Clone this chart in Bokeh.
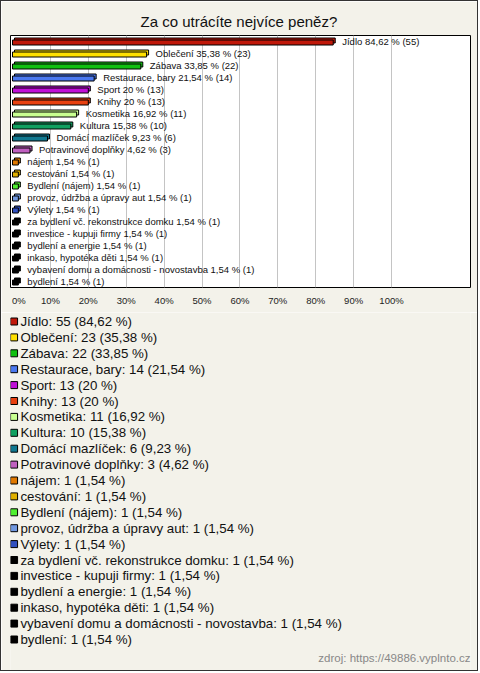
from bokeh.plotting import figure
from bokeh.layouts import column
from bokeh.models import ColumnDataSource, FixedTicker, Range1d, Label
from bokeh.core.properties import value
from bokeh.embed import file_html
from bokeh.resources import INLINE

# ---------------- data ----------------
categories = [
    "Jídlo", "Oblečení", "Zábava", "Restaurace, bary", "Sport", "Knihy",
    "Kosmetika", "Kultura", "Domácí mazlíček", "Potravinové doplňky",
    "nájem", "cestování", "Bydlení (nájem)", "provoz, údržba a úpravy aut",
    "Výlety", "za bydlení vč. rekonstrukce domku", "investice - kupuji firmy",
    "bydlení a energie", "inkaso, hypotéka děti",
    "vybavení domu a domácnosti - novostavba", "bydlení",
]
counts = [55, 23, 22, 14, 13, 13, 11, 10, 6, 3, 1, 1, 1, 1, 1, 1, 1, 1, 1, 1, 1]
percents = [84.62, 35.38, 33.85, 21.54, 20, 20, 16.92, 15.38, 9.23, 4.62,
            1.54, 1.54, 1.54, 1.54, 1.54, 1.54, 1.54, 1.54, 1.54, 1.54, 1.54]
colors = [
    "#c0180a", "#ffe000", "#10c010", "#4a78f0", "#c010d8", "#e84010",
    "#c8ff90", "#10a060", "#107890", "#c060c0", "#e07800", "#e0b000",
    "#50f030", "#7098e0", "#3050c0", "#000000", "#000000", "#000000",
    "#000000", "#000000", "#000000",
]
tick_values = [0, 10, 20, 30, 40, 50, 60, 70, 80, 90, 100]
tick_labels = ["0%", "10%", "20%", "30%", "40%", "50%", "60%", "70%", "80%", "90%", "100%"]
title_text = "Za co utrácíte nejvíce peněz?"
source_text = "zdroj: https://49886.vyplnto.cz"

# ---------------- layout constants ----------------
FONT = "Liberation Sans"
BG = "#f3f2ea"
W = 478                                  # inside a 1px CSS border
H1, H2 = 312, 359                        # chart part, legend part
FL, FR, FT, FB = 9, 469, 34, 286         # chart frame edges in canvas pixels
X0, X1 = -0.53, 120.84
px_x = (FR - FL) / (X1 - X0)             # pixels per percent
n = len(categories)
px_y = (FB - FT) / n                     # pixels per row
ROW = 15.9                               # legend row pitch
LEG_TOP = 9                              # first legend row centre (canvas px)
QR = 5                                   # legend part right border


def fmt(v):
    return ("%g" % v).replace(".", ",")


bar_labels = [f"{c} {fmt(p)} % ({k})" for c, p, k in zip(categories, percents, counts)]
legend_labels = [f"{c}: {k} ({fmt(p)} %)" for c, p, k in zip(categories, percents, counts)]

idx = list(range(n))
dx = 2 / px_x
dy = 1 / px_y
src = ColumnDataSource(dict(
    yf=[i + dy for i in idx],
    yb=[i - dy for i in idx],
    zero=[0] * n,
    zb=[dx] * n,
    v=percents,
    vb=[p + dx for p in percents],
    color=colors,
    label=bar_labels,
    legend=legend_labels,
    yl=idx,
))

# ---------------- chart ----------------
p = figure(width=W, height=H1, output_backend="svg", toolbar_location=None,
           x_range=Range1d(X0, X1), y_range=Range1d(n - 0.5, -0.5),
           y_axis_location=None,
           min_border_left=FL, min_border_right=W - FR,
           min_border_top=FT, min_border_bottom=H1 - FB)
p.styles = {"border": "1px solid #333333", "border-bottom": "none"}
p.border_fill_color = BG
p.background_fill_color = "#ffffff"
p.outline_line_color = "#000000"
p.outline_line_width = 1

p.title.text = title_text
p.title.align = "left"
p.title.offset = 130
p.title.standoff = 12
p.title.text_font = FONT
p.title.text_font_size = "15px"
p.title.text_font_style = "normal"
p.title.text_color = "#111111"

overrides = {t: l for t, l in zip(tick_values, tick_labels)}
overrides[tick_values[0]] = "\u2007\u2007" + tick_labels[0]   # first label starts at the tick
p.xaxis.ticker = FixedTicker(ticks=tick_values)
p.xaxis.major_label_overrides = overrides
p.xaxis.axis_line_color = None
p.xaxis.major_tick_line_color = None
p.xaxis.minor_tick_line_color = None
p.xaxis.major_tick_out = 0
p.xaxis.major_tick_in = 0
p.xaxis.major_label_standoff = 7
p.xaxis.major_label_text_font = FONT
p.xaxis.major_label_text_font_size = "9.5px"
p.xaxis.major_label_text_color = "#222222"
p.xgrid.ticker = FixedTicker(ticks=tick_values[1:])
p.xgrid.grid_line_color = "#c4c4c4"
p.ygrid.grid_line_color = None

bar_h = 5 / px_y
p.hbar(y="yb", left="zb", right="vb", height=bar_h, source=src,
       fill_color="color", line_color="#000000", line_width=1)
p.hbar(y="yf", left="zero", right="v", height=bar_h, source=src,
       fill_color="color", line_color="#000000", line_width=1)
p.text(x="v", y="yl", text="label", source=src, x_offset=9,
       text_font=value(FONT), text_font_size="9.5px", text_color="#111111",
       text_align="left", text_baseline="middle")

# ---------------- legend ----------------
q = figure(width=W, height=H2, output_backend="svg", toolbar_location=None,
           x_range=Range1d(FL, W - QR),
           y_range=Range1d((H2 - LEG_TOP) / ROW, -LEG_TOP / ROW),
           x_axis_location=None, y_axis_location=None,
           min_border_left=FL, min_border_right=QR, min_border_top=0, min_border_bottom=0)
q.styles = {"border": "1px solid #333333", "border-top": "none"}
q.border_fill_color = BG
q.background_fill_color = BG
q.outline_line_color = None
q.grid.visible = False

q.scatter(x=12.6, y="yl", source=src, marker="square", size=7,
          fill_color="color", line_color="#000000", line_width=1)
q.text(x=19, y="yl", text="legend", source=src,
       text_font=value(FONT), text_font_size="13.3px", text_color="#111111",
       text_align="left", text_baseline="middle")
q.add_layout(Label(x=FR - FL, y=14, x_units="screen", y_units="screen",
                   text=source_text, text_font=FONT, text_font_size="11.5px",
                   text_color="#888888", text_align="right", text_baseline="middle"))

layout = column(p, q, spacing=0)
open("out.html", "w").write(file_html(layout, INLINE))
